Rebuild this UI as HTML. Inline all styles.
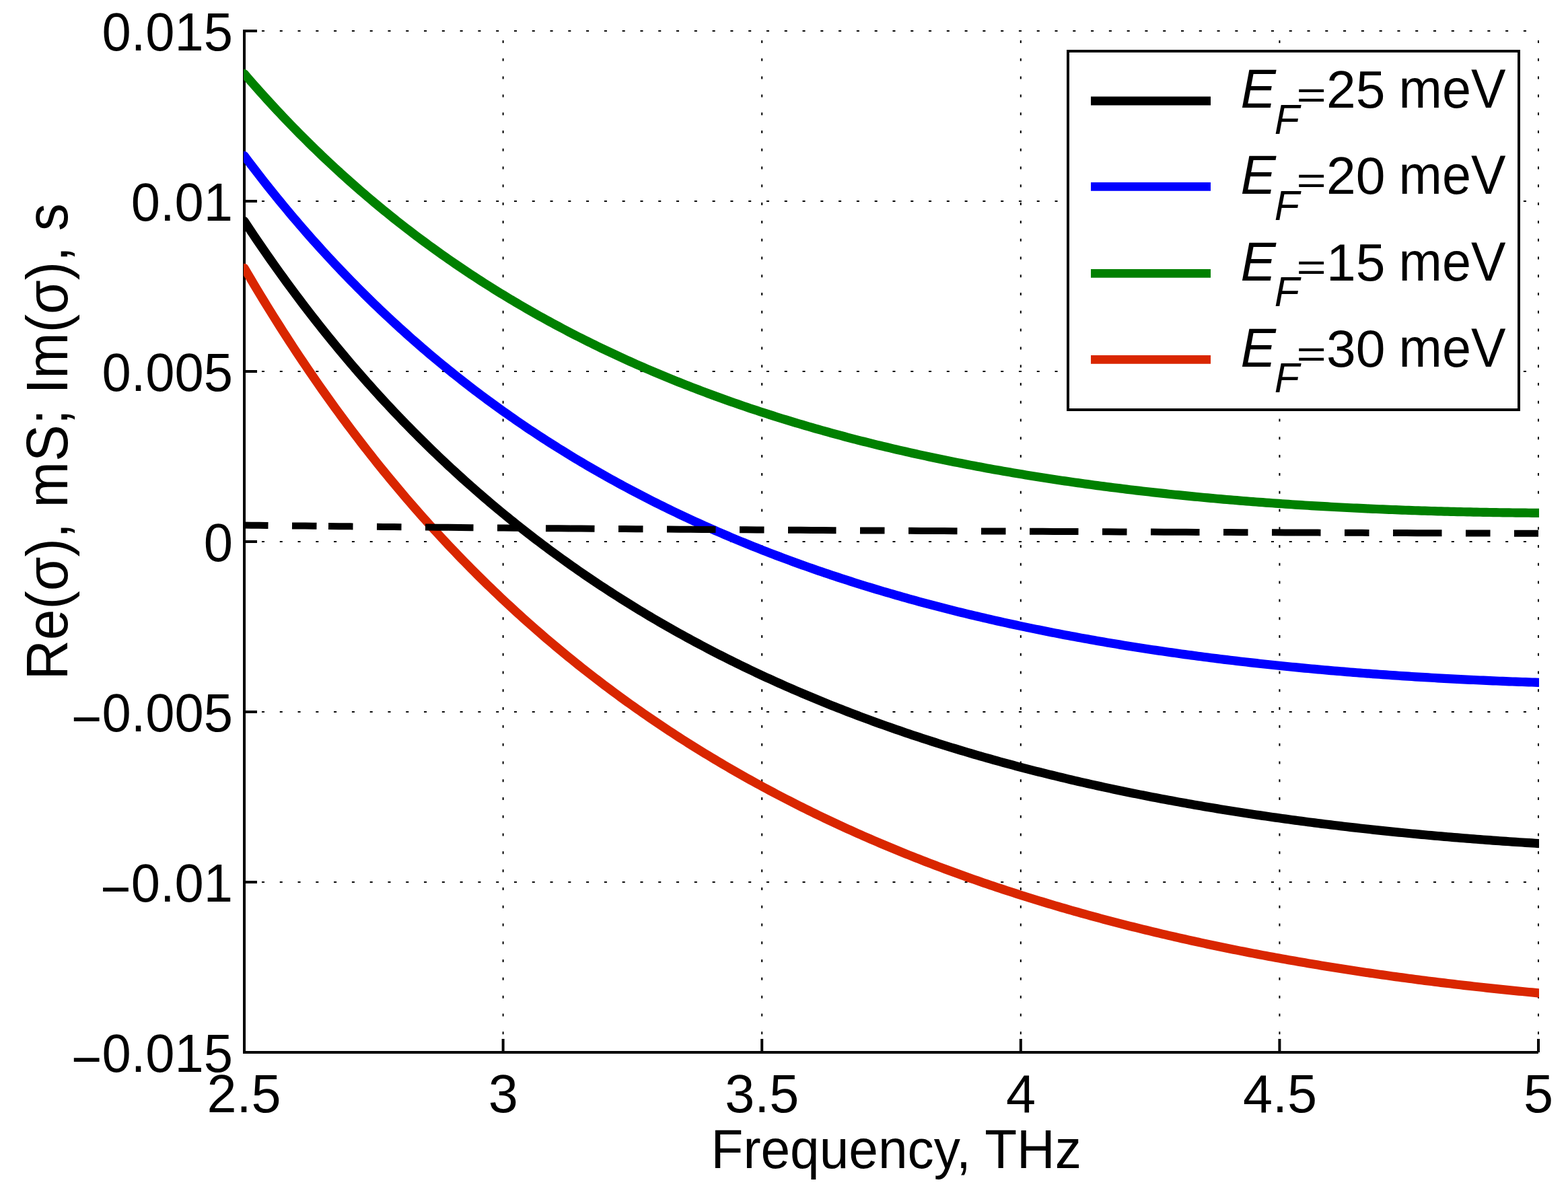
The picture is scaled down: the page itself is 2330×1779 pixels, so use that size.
<!DOCTYPE html><html><head><meta charset="utf-8"><title>Re(σ) vs Frequency</title><style>html,body{margin:0;padding:0;background:#fff;}svg{display:block;}</style></head><body>
<svg width="2330" height="1779" viewBox="0 0 2330 1779" font-family="Liberation Sans, Arial, Helvetica, sans-serif">
<defs><clipPath id="ax"><rect x="362" y="40" width="1925" height="1530"/></clipPath></defs>
<rect x="0" y="0" width="2330" height="1779" fill="#fff"/>
<path d="M362.2 46.0H2288 M362.2 299.0H2288 M362.2 552.0H2288 M362.2 805.0H2288 M362.2 1058.0H2288 M362.2 1311.0H2288 M362.2 1564.0H2288 M363.0 1564V44 M747.6 1564V44 M1132.2 1564V44 M1516.8 1564V44 M1901.4 1564V44 M2286.0 1564V44" stroke="#000" stroke-width="2" stroke-dasharray="4 22.785" fill="none"/>
<path d="M363 46V1564M361 1564H2286" stroke="#000" stroke-width="4" fill="none"/>
<path d="M361 46.0H382 M361 299.0H382 M361 552.0H382 M361 805.0H382 M361 1058.0H382 M361 1311.0H382 M361 1564.0H382 M363.0 1564V1544 M747.6 1564V1544 M1132.2 1564V1544 M1516.8 1564V1544 M1901.4 1564V1544 M2286.0 1564V1544" stroke="#000" stroke-width="4" fill="none"/>
<polyline points="363.00,328.59 367.82,335.89 372.64,343.13 377.46,350.32 382.28,357.44 387.10,364.51 391.92,371.52 396.74,378.48 401.56,385.38 406.38,392.22 411.20,399.01 416.02,405.75 420.83,412.43 425.65,419.06 430.47,425.63 435.29,432.15 440.11,438.62 444.93,445.04 449.75,451.41 454.57,457.73 459.39,464.00 464.21,470.22 469.03,476.39 473.85,482.51 478.67,488.58 483.49,494.61 488.31,500.59 493.13,506.52 497.95,512.41 502.77,518.25 507.59,524.04 512.41,529.79 517.23,535.50 522.05,541.16 526.86,546.77 531.68,552.35 536.50,557.88 541.32,563.37 546.14,568.81 550.96,574.22 555.78,579.58 560.60,584.90 565.42,590.19 570.24,595.43 575.06,600.63 579.88,605.79 584.70,610.91 589.52,615.99 594.34,621.04 599.16,626.05 603.98,631.01 608.80,635.95 613.62,640.84 618.44,645.70 623.26,650.52 628.08,655.30 632.89,660.05 637.71,664.76 642.53,669.44 647.35,674.08 652.17,678.69 656.99,683.26 661.81,687.80 666.63,692.31 671.45,696.78 676.27,701.22 681.09,705.62 685.91,710.00 690.73,714.34 695.55,718.65 700.37,722.92 705.19,727.17 710.01,731.38 714.83,735.57 719.65,739.72 724.47,743.84 729.29,747.93 734.11,751.99 738.92,756.02 743.74,760.02 748.56,764.00 753.38,767.94 758.20,771.85 763.02,775.74 767.84,779.60 772.66,783.43 777.48,787.23 782.30,791.00 787.12,794.75 791.94,798.47 796.76,802.16 801.58,805.83 806.40,809.47 811.22,813.08 816.04,816.67 820.86,820.23 825.68,823.76 830.50,827.27 835.32,830.76 840.14,834.22 844.95,837.65 849.77,841.06 854.59,844.45 859.41,847.81 864.23,851.14 869.05,854.46 873.87,857.75 878.69,861.01 883.51,864.25 888.33,867.47 893.15,870.67 897.97,873.84 902.79,876.99 907.61,880.12 912.43,883.23 917.25,886.31 922.07,889.37 926.89,892.41 931.71,895.43 936.53,898.43 941.35,901.40 946.17,904.36 950.98,907.29 955.80,910.20 960.62,913.09 965.44,915.97 970.26,918.82 975.08,921.65 979.90,924.46 984.72,927.25 989.54,930.02 994.36,932.77 999.18,935.50 1004.00,938.22 1008.82,940.91 1013.64,943.59 1018.46,946.24 1023.28,948.88 1028.10,951.50 1032.92,954.10 1037.74,956.68 1042.56,959.24 1047.38,961.79 1052.20,964.31 1057.02,966.82 1061.83,969.32 1066.65,971.79 1071.47,974.25 1076.29,976.69 1081.11,979.11 1085.93,981.52 1090.75,983.90 1095.57,986.28 1100.39,988.63 1105.21,990.97 1110.03,993.29 1114.85,995.60 1119.67,997.89 1124.49,1000.16 1129.31,1002.42 1134.13,1004.66 1138.95,1006.89 1143.77,1009.10 1148.59,1011.29 1153.41,1013.47 1158.23,1015.64 1163.05,1017.79 1167.86,1019.92 1172.68,1022.04 1177.50,1024.14 1182.32,1026.23 1187.14,1028.31 1191.96,1030.37 1196.78,1032.41 1201.60,1034.44 1206.42,1036.46 1211.24,1038.46 1216.06,1040.45 1220.88,1042.42 1225.70,1044.39 1230.52,1046.33 1235.34,1048.26 1240.16,1050.18 1244.98,1052.09 1249.80,1053.98 1254.62,1055.86 1259.44,1057.73 1264.26,1059.58 1269.08,1061.42 1273.89,1063.25 1278.71,1065.06 1283.53,1066.86 1288.35,1068.65 1293.17,1070.43 1297.99,1072.19 1302.81,1073.94 1307.63,1075.68 1312.45,1077.41 1317.27,1079.12 1322.09,1080.82 1326.91,1082.51 1331.73,1084.19 1336.55,1085.85 1341.37,1087.51 1346.19,1089.15 1351.01,1090.78 1355.83,1092.40 1360.65,1094.01 1365.47,1095.60 1370.29,1097.19 1375.11,1098.76 1379.92,1100.32 1384.74,1101.87 1389.56,1103.41 1394.38,1104.94 1399.20,1106.46 1404.02,1107.97 1408.84,1109.46 1413.66,1110.95 1418.48,1112.42 1423.30,1113.89 1428.12,1115.34 1432.94,1116.79 1437.76,1118.22 1442.58,1119.64 1447.40,1121.05 1452.22,1122.46 1457.04,1123.85 1461.86,1125.23 1466.68,1126.60 1471.50,1127.96 1476.32,1129.32 1481.14,1130.66 1485.95,1131.99 1490.77,1133.31 1495.59,1134.63 1500.41,1135.93 1505.23,1137.22 1510.05,1138.51 1514.87,1139.78 1519.69,1141.05 1524.51,1142.31 1529.33,1143.55 1534.15,1144.79 1538.97,1146.02 1543.79,1147.24 1548.61,1148.45 1553.43,1149.66 1558.25,1150.85 1563.07,1152.03 1567.89,1153.21 1572.71,1154.38 1577.53,1155.53 1582.35,1156.68 1587.17,1157.83 1591.98,1158.96 1596.80,1160.08 1601.62,1161.20 1606.44,1162.31 1611.26,1163.40 1616.08,1164.49 1620.90,1165.58 1625.72,1166.65 1630.54,1167.72 1635.36,1168.78 1640.18,1169.83 1645.00,1170.87 1649.82,1171.90 1654.64,1172.93 1659.46,1173.95 1664.28,1174.96 1669.10,1175.96 1673.92,1176.96 1678.74,1177.94 1683.56,1178.92 1688.38,1179.90 1693.20,1180.86 1698.02,1181.82 1702.83,1182.77 1707.65,1183.71 1712.47,1184.65 1717.29,1185.57 1722.11,1186.50 1726.93,1187.41 1731.75,1188.32 1736.57,1189.21 1741.39,1190.11 1746.21,1190.99 1751.03,1191.87 1755.85,1192.74 1760.67,1193.60 1765.49,1194.46 1770.31,1195.31 1775.13,1196.16 1779.95,1196.99 1784.77,1197.82 1789.59,1198.65 1794.41,1199.46 1799.23,1200.27 1804.05,1201.08 1808.86,1201.87 1813.68,1202.66 1818.50,1203.45 1823.32,1204.22 1828.14,1205.00 1832.96,1205.76 1837.78,1206.52 1842.60,1207.27 1847.42,1208.02 1852.24,1208.76 1857.06,1209.49 1861.88,1210.22 1866.70,1210.94 1871.52,1211.65 1876.34,1212.36 1881.16,1213.06 1885.98,1213.76 1890.80,1214.45 1895.62,1215.14 1900.44,1215.82 1905.26,1216.49 1910.08,1217.16 1914.89,1217.82 1919.71,1218.47 1924.53,1219.12 1929.35,1219.77 1934.17,1220.41 1938.99,1221.04 1943.81,1221.67 1948.63,1222.29 1953.45,1222.91 1958.27,1223.52 1963.09,1224.12 1967.91,1224.72 1972.73,1225.32 1977.55,1225.91 1982.37,1226.49 1987.19,1227.07 1992.01,1227.64 1996.83,1228.21 2001.65,1228.77 2006.47,1229.33 2011.29,1229.88 2016.11,1230.43 2020.92,1230.97 2025.74,1231.50 2030.56,1232.04 2035.38,1232.56 2040.20,1233.08 2045.02,1233.60 2049.84,1234.11 2054.66,1234.62 2059.48,1235.12 2064.30,1235.61 2069.12,1236.11 2073.94,1236.59 2078.76,1237.07 2083.58,1237.55 2088.40,1238.02 2093.22,1238.49 2098.04,1238.95 2102.86,1239.41 2107.68,1239.87 2112.50,1240.31 2117.32,1240.76 2122.14,1241.20 2126.95,1241.63 2131.77,1242.06 2136.59,1242.49 2141.41,1242.91 2146.23,1243.33 2151.05,1243.74 2155.87,1244.15 2160.69,1244.55 2165.51,1244.95 2170.33,1245.34 2175.15,1245.73 2179.97,1246.12 2184.79,1246.50 2189.61,1246.88 2194.43,1247.25 2199.25,1247.62 2204.07,1247.98 2208.89,1248.34 2213.71,1248.70 2218.53,1249.05 2223.35,1249.40 2228.17,1249.74 2232.98,1250.08 2237.80,1250.42 2242.62,1250.75 2247.44,1251.07 2252.26,1251.40 2257.08,1251.72 2261.90,1252.03 2266.72,1252.34 2271.54,1252.65 2276.36,1252.95 2281.18,1253.25 2286.00,1253.55" fill="none" stroke="#000000" stroke-width="13.2" stroke-linejoin="round" stroke-linecap="round" clip-path="url(#ax)"/>
<polyline points="363.00,231.48 367.82,237.90 372.64,244.26 377.46,250.58 382.28,256.83 387.10,263.04 391.92,269.20 396.74,275.31 401.56,281.36 406.38,287.37 411.20,293.33 416.02,299.24 420.83,305.10 425.65,310.91 430.47,316.68 435.29,322.40 440.11,328.07 444.93,333.70 449.75,339.28 454.57,344.82 459.39,350.31 464.21,355.76 469.03,361.16 473.85,366.52 478.67,371.84 483.49,377.11 488.31,382.35 493.13,387.54 497.95,392.69 502.77,397.80 507.59,402.87 512.41,407.90 517.23,412.89 522.05,417.83 526.86,422.74 531.68,427.62 536.50,432.45 541.32,437.24 546.14,442.00 550.96,446.72 555.78,451.40 560.60,456.05 565.42,460.66 570.24,465.23 575.06,469.77 579.88,474.27 584.70,478.74 589.52,483.17 594.34,487.57 599.16,491.94 603.98,496.27 608.80,500.56 613.62,504.83 618.44,509.06 623.26,513.26 628.08,517.42 632.89,521.55 637.71,525.66 642.53,529.73 647.35,533.76 652.17,537.77 656.99,541.75 661.81,545.69 666.63,549.61 671.45,553.50 676.27,557.35 681.09,561.18 685.91,564.98 690.73,568.75 695.55,572.49 700.37,576.20 705.19,579.88 710.01,583.54 714.83,587.17 719.65,590.77 724.47,594.34 729.29,597.88 734.11,601.40 738.92,604.90 743.74,608.36 748.56,611.80 753.38,615.21 758.20,618.60 763.02,621.96 767.84,625.30 772.66,628.61 777.48,631.90 782.30,635.16 787.12,638.40 791.94,641.61 796.76,644.80 801.58,647.97 806.40,651.11 811.22,654.23 816.04,657.32 820.86,660.40 825.68,663.45 830.50,666.47 835.32,669.47 840.14,672.46 844.95,675.41 849.77,678.35 854.59,681.27 859.41,684.16 864.23,687.03 869.05,689.88 873.87,692.71 878.69,695.52 883.51,698.30 888.33,701.07 893.15,703.82 897.97,706.54 902.79,709.25 907.61,711.93 912.43,714.60 917.25,717.24 922.07,719.87 926.89,722.47 931.71,725.06 936.53,727.63 941.35,730.18 946.17,732.71 950.98,735.22 955.80,737.71 960.62,740.18 965.44,742.64 970.26,745.08 975.08,747.50 979.90,749.90 984.72,752.28 989.54,754.65 994.36,756.99 999.18,759.33 1004.00,761.64 1008.82,763.94 1013.64,766.22 1018.46,768.48 1023.28,770.73 1028.10,772.95 1032.92,775.17 1037.74,777.36 1042.56,779.54 1047.38,781.71 1052.20,783.86 1057.02,785.99 1061.83,788.11 1066.65,790.21 1071.47,792.29 1076.29,794.36 1081.11,796.42 1085.93,798.46 1090.75,800.48 1095.57,802.49 1100.39,804.48 1105.21,806.46 1110.03,808.43 1114.85,810.38 1119.67,812.31 1124.49,814.24 1129.31,816.14 1134.13,818.04 1138.95,819.91 1143.77,821.78 1148.59,823.63 1153.41,825.47 1158.23,827.29 1163.05,829.10 1167.86,830.90 1172.68,832.68 1177.50,834.45 1182.32,836.21 1187.14,837.95 1191.96,839.68 1196.78,841.40 1201.60,843.10 1206.42,844.80 1211.24,846.48 1216.06,848.14 1220.88,849.80 1225.70,851.44 1230.52,853.07 1235.34,854.68 1240.16,856.29 1244.98,857.88 1249.80,859.46 1254.62,861.03 1259.44,862.59 1264.26,864.14 1269.08,865.67 1273.89,867.19 1278.71,868.70 1283.53,870.20 1288.35,871.69 1293.17,873.17 1297.99,874.63 1302.81,876.09 1307.63,877.53 1312.45,878.96 1317.27,880.38 1322.09,881.79 1326.91,883.19 1331.73,884.58 1336.55,885.96 1341.37,887.33 1346.19,888.69 1351.01,890.03 1355.83,891.37 1360.65,892.70 1365.47,894.01 1370.29,895.32 1375.11,896.61 1379.92,897.90 1384.74,899.18 1389.56,900.44 1394.38,901.70 1399.20,902.94 1404.02,904.18 1408.84,905.41 1413.66,906.63 1418.48,907.83 1423.30,909.03 1428.12,910.22 1432.94,911.40 1437.76,912.57 1442.58,913.73 1447.40,914.89 1452.22,916.03 1457.04,917.16 1461.86,918.29 1466.68,919.40 1471.50,920.51 1476.32,921.61 1481.14,922.70 1485.95,923.78 1490.77,924.85 1495.59,925.92 1500.41,926.97 1505.23,928.02 1510.05,929.06 1514.87,930.09 1519.69,931.11 1524.51,932.12 1529.33,933.12 1534.15,934.12 1538.97,935.11 1543.79,936.09 1548.61,937.06 1553.43,938.03 1558.25,938.98 1563.07,939.93 1567.89,940.87 1572.71,941.81 1577.53,942.73 1582.35,943.65 1587.17,944.56 1591.98,945.46 1596.80,946.36 1601.62,947.25 1606.44,948.13 1611.26,949.00 1616.08,949.86 1620.90,950.72 1625.72,951.57 1630.54,952.41 1635.36,953.25 1640.18,954.08 1645.00,954.90 1649.82,955.72 1654.64,956.52 1659.46,957.32 1664.28,958.12 1669.10,958.90 1673.92,959.68 1678.74,960.46 1683.56,961.22 1688.38,961.98 1693.20,962.74 1698.02,963.48 1702.83,964.22 1707.65,964.95 1712.47,965.68 1717.29,966.40 1722.11,967.11 1726.93,967.82 1731.75,968.52 1736.57,969.22 1741.39,969.90 1746.21,970.59 1751.03,971.26 1755.85,971.93 1760.67,972.59 1765.49,973.25 1770.31,973.90 1775.13,974.54 1779.95,975.18 1784.77,975.82 1789.59,976.44 1794.41,977.06 1799.23,977.68 1804.05,978.29 1808.86,978.89 1813.68,979.49 1818.50,980.08 1823.32,980.66 1828.14,981.24 1832.96,981.82 1837.78,982.39 1842.60,982.95 1847.42,983.51 1852.24,984.06 1857.06,984.60 1861.88,985.15 1866.70,985.68 1871.52,986.21 1876.34,986.74 1881.16,987.25 1885.98,987.77 1890.80,988.28 1895.62,988.78 1900.44,989.28 1905.26,989.77 1910.08,990.26 1914.89,990.74 1919.71,991.22 1924.53,991.69 1929.35,992.16 1934.17,992.62 1938.99,993.08 1943.81,993.53 1948.63,993.97 1953.45,994.42 1958.27,994.85 1963.09,995.29 1967.91,995.71 1972.73,996.14 1977.55,996.55 1982.37,996.97 1987.19,997.37 1992.01,997.78 1996.83,998.18 2001.65,998.57 2006.47,998.96 2011.29,999.34 2016.11,999.72 2020.92,1000.10 2025.74,1000.47 2030.56,1000.84 2035.38,1001.20 2040.20,1001.56 2045.02,1001.91 2049.84,1002.26 2054.66,1002.60 2059.48,1002.94 2064.30,1003.28 2069.12,1003.61 2073.94,1003.93 2078.76,1004.26 2083.58,1004.57 2088.40,1004.89 2093.22,1005.20 2098.04,1005.50 2102.86,1005.80 2107.68,1006.10 2112.50,1006.39 2117.32,1006.68 2122.14,1006.96 2126.95,1007.24 2131.77,1007.52 2136.59,1007.79 2141.41,1008.06 2146.23,1008.33 2151.05,1008.59 2155.87,1008.84 2160.69,1009.09 2165.51,1009.34 2170.33,1009.59 2175.15,1009.83 2179.97,1010.06 2184.79,1010.30 2189.61,1010.53 2194.43,1010.75 2199.25,1010.97 2204.07,1011.19 2208.89,1011.40 2213.71,1011.61 2218.53,1011.82 2223.35,1012.02 2228.17,1012.22 2232.98,1012.42 2237.80,1012.61 2242.62,1012.80 2247.44,1012.98 2252.26,1013.16 2257.08,1013.34 2261.90,1013.51 2266.72,1013.68 2271.54,1013.85 2276.36,1014.01 2281.18,1014.17 2286.00,1014.33" fill="none" stroke="#0000ff" stroke-width="13.2" stroke-linejoin="round" stroke-linecap="round" clip-path="url(#ax)"/>
<polyline points="363.00,109.60 367.82,115.19 372.64,120.73 377.46,126.23 382.28,131.68 387.10,137.09 391.92,142.45 396.74,147.76 401.56,153.03 406.38,158.26 411.20,163.44 416.02,168.59 420.83,173.68 425.65,178.74 430.47,183.75 435.29,188.72 440.11,193.65 444.93,198.54 449.75,203.39 454.57,208.20 459.39,212.97 464.21,217.70 469.03,222.39 473.85,227.05 478.67,231.66 483.49,236.24 488.31,240.78 493.13,245.28 497.95,249.75 502.77,254.18 507.59,258.57 512.41,262.93 517.23,267.25 522.05,271.54 526.86,275.79 531.68,280.01 536.50,284.19 541.32,288.34 546.14,292.46 550.96,296.55 555.78,300.60 560.60,304.61 565.42,308.60 570.24,312.55 575.06,316.48 579.88,320.37 584.70,324.23 589.52,328.05 594.34,331.85 599.16,335.62 603.98,339.36 608.80,343.07 613.62,346.74 618.44,350.39 623.26,354.01 628.08,357.60 632.89,361.17 637.71,364.70 642.53,368.21 647.35,371.69 652.17,375.14 656.99,378.56 661.81,381.96 666.63,385.33 671.45,388.67 676.27,391.99 681.09,395.28 685.91,398.54 690.73,401.78 695.55,404.99 700.37,408.18 705.19,411.35 710.01,414.48 714.83,417.60 719.65,420.69 724.47,423.75 729.29,426.79 734.11,429.81 738.92,432.80 743.74,435.77 748.56,438.72 753.38,441.64 758.20,444.54 763.02,447.42 767.84,450.28 772.66,453.11 777.48,455.92 782.30,458.71 787.12,461.48 791.94,464.22 796.76,466.95 801.58,469.65 806.40,472.33 811.22,475.00 816.04,477.64 820.86,480.26 825.68,482.86 830.50,485.44 835.32,487.99 840.14,490.53 844.95,493.05 849.77,495.55 854.59,498.03 859.41,500.50 864.23,502.94 869.05,505.36 873.87,507.76 878.69,510.15 883.51,512.52 888.33,514.87 893.15,517.20 897.97,519.51 902.79,521.80 907.61,524.08 912.43,526.34 917.25,528.58 922.07,530.80 926.89,533.01 931.71,535.20 936.53,537.37 941.35,539.53 946.17,541.67 950.98,543.79 955.80,545.89 960.62,547.98 965.44,550.06 970.26,552.11 975.08,554.15 979.90,556.18 984.72,558.19 989.54,560.18 994.36,562.16 999.18,564.12 1004.00,566.07 1008.82,568.00 1013.64,569.92 1018.46,571.82 1023.28,573.71 1028.10,575.58 1032.92,577.44 1037.74,579.28 1042.56,581.11 1047.38,582.92 1052.20,584.72 1057.02,586.51 1061.83,588.28 1066.65,590.04 1071.47,591.78 1076.29,593.51 1081.11,595.23 1085.93,596.93 1090.75,598.62 1095.57,600.30 1100.39,601.96 1105.21,603.62 1110.03,605.25 1114.85,606.88 1119.67,608.49 1124.49,610.09 1129.31,611.67 1134.13,613.25 1138.95,614.81 1143.77,616.36 1148.59,617.89 1153.41,619.42 1158.23,620.93 1163.05,622.43 1167.86,623.92 1172.68,625.39 1177.50,626.86 1182.32,628.31 1187.14,629.75 1191.96,631.18 1196.78,632.60 1201.60,634.01 1206.42,635.40 1211.24,636.79 1216.06,638.16 1220.88,639.52 1225.70,640.87 1230.52,642.21 1235.34,643.54 1240.16,644.86 1244.98,646.17 1249.80,647.46 1254.62,648.75 1259.44,650.03 1264.26,651.29 1269.08,652.55 1273.89,653.79 1278.71,655.03 1283.53,656.25 1288.35,657.46 1293.17,658.67 1297.99,659.86 1302.81,661.05 1307.63,662.22 1312.45,663.39 1317.27,664.54 1322.09,665.69 1326.91,666.82 1331.73,667.95 1336.55,669.07 1341.37,670.18 1346.19,671.27 1351.01,672.36 1355.83,673.44 1360.65,674.52 1365.47,675.58 1370.29,676.63 1375.11,677.67 1379.92,678.71 1384.74,679.74 1389.56,680.75 1394.38,681.76 1399.20,682.76 1404.02,683.75 1408.84,684.74 1413.66,685.71 1418.48,686.68 1423.30,687.64 1428.12,688.59 1432.94,689.53 1437.76,690.46 1442.58,691.38 1447.40,692.30 1452.22,693.21 1457.04,694.11 1461.86,695.00 1466.68,695.89 1471.50,696.76 1476.32,697.63 1481.14,698.49 1485.95,699.35 1490.77,700.19 1495.59,701.03 1500.41,701.86 1505.23,702.69 1510.05,703.50 1514.87,704.31 1519.69,705.11 1524.51,705.91 1529.33,706.69 1534.15,707.47 1538.97,708.24 1543.79,709.01 1548.61,709.76 1553.43,710.51 1558.25,711.26 1563.07,711.99 1567.89,712.72 1572.71,713.45 1577.53,714.16 1582.35,714.87 1587.17,715.57 1591.98,716.27 1596.80,716.96 1601.62,717.64 1606.44,718.32 1611.26,718.98 1616.08,719.65 1620.90,720.30 1625.72,720.95 1630.54,721.59 1635.36,722.23 1640.18,722.86 1645.00,723.49 1649.82,724.10 1654.64,724.72 1659.46,725.32 1664.28,725.92 1669.10,726.51 1673.92,727.10 1678.74,727.68 1683.56,728.26 1688.38,728.82 1693.20,729.39 1698.02,729.94 1702.83,730.50 1707.65,731.04 1712.47,731.58 1717.29,732.11 1722.11,732.64 1726.93,733.16 1731.75,733.68 1736.57,734.19 1741.39,734.70 1746.21,735.20 1751.03,735.69 1755.85,736.18 1760.67,736.66 1765.49,737.14 1770.31,737.62 1775.13,738.08 1779.95,738.54 1784.77,739.00 1789.59,739.45 1794.41,739.90 1799.23,740.34 1804.05,740.77 1808.86,741.20 1813.68,741.63 1818.50,742.05 1823.32,742.46 1828.14,742.87 1832.96,743.28 1837.78,743.68 1842.60,744.07 1847.42,744.46 1852.24,744.85 1857.06,745.23 1861.88,745.61 1866.70,745.98 1871.52,746.34 1876.34,746.70 1881.16,747.06 1885.98,747.41 1890.80,747.76 1895.62,748.10 1900.44,748.44 1905.26,748.77 1910.08,749.10 1914.89,749.42 1919.71,749.74 1924.53,750.06 1929.35,750.37 1934.17,750.67 1938.99,750.97 1943.81,751.27 1948.63,751.56 1953.45,751.85 1958.27,752.13 1963.09,752.41 1967.91,752.69 1972.73,752.96 1977.55,753.23 1982.37,753.49 1987.19,753.75 1992.01,754.00 1996.83,754.25 2001.65,754.50 2006.47,754.74 2011.29,754.97 2016.11,755.21 2020.92,755.44 2025.74,755.66 2030.56,755.88 2035.38,756.10 2040.20,756.31 2045.02,756.52 2049.84,756.73 2054.66,756.93 2059.48,757.13 2064.30,757.32 2069.12,757.51 2073.94,757.70 2078.76,757.88 2083.58,758.06 2088.40,758.23 2093.22,758.40 2098.04,758.57 2102.86,758.73 2107.68,758.89 2112.50,759.05 2117.32,759.20 2122.14,759.35 2126.95,759.50 2131.77,759.64 2136.59,759.78 2141.41,759.91 2146.23,760.04 2151.05,760.17 2155.87,760.29 2160.69,760.41 2165.51,760.53 2170.33,760.65 2175.15,760.76 2179.97,760.86 2184.79,760.97 2189.61,761.07 2194.43,761.16 2199.25,761.26 2204.07,761.35 2208.89,761.43 2213.71,761.52 2218.53,761.60 2223.35,761.67 2228.17,761.75 2232.98,761.82 2237.80,761.88 2242.62,761.95 2247.44,762.01 2252.26,762.07 2257.08,762.12 2261.90,762.17 2266.72,762.22 2271.54,762.27 2276.36,762.31 2281.18,762.35 2286.00,762.38" fill="none" stroke="#008000" stroke-width="13.2" stroke-linejoin="round" stroke-linecap="round" clip-path="url(#ax)"/>
<polyline points="363.00,398.26 367.82,406.50 372.64,414.68 377.46,422.79 382.28,430.83 387.10,438.82 391.92,446.73 396.74,454.59 401.56,462.38 406.38,470.12 411.20,477.79 416.02,485.40 420.83,492.95 425.65,500.44 430.47,507.87 435.29,515.25 440.11,522.57 444.93,529.83 449.75,537.03 454.57,544.18 459.39,551.27 464.21,558.31 469.03,565.29 473.85,572.22 478.67,579.09 483.49,585.92 488.31,592.69 493.13,599.41 497.95,606.07 502.77,612.69 507.59,619.26 512.41,625.77 517.23,632.24 522.05,638.66 526.86,645.02 531.68,651.35 536.50,657.62 541.32,663.84 546.14,670.02 550.96,676.15 555.78,682.24 560.60,688.28 565.42,694.28 570.24,700.23 575.06,706.13 579.88,711.99 584.70,717.81 589.52,723.59 594.34,729.32 599.16,735.01 603.98,740.66 608.80,746.26 613.62,751.83 618.44,757.35 623.26,762.83 628.08,768.28 632.89,773.68 637.71,779.04 642.53,784.37 647.35,789.65 652.17,794.90 656.99,800.11 661.81,805.28 666.63,810.41 671.45,815.50 676.27,820.56 681.09,825.59 685.91,830.57 690.73,835.52 695.55,840.43 700.37,845.31 705.19,850.16 710.01,854.96 714.83,859.74 719.65,864.48 724.47,869.18 729.29,873.86 734.11,878.49 738.92,883.10 743.74,887.67 748.56,892.21 753.38,896.72 758.20,901.20 763.02,905.64 767.84,910.05 772.66,914.44 777.48,918.79 782.30,923.11 787.12,927.40 791.94,931.65 796.76,935.88 801.58,940.08 806.40,944.25 811.22,948.39 816.04,952.50 820.86,956.59 825.68,960.64 830.50,964.67 835.32,968.66 840.14,972.63 844.95,976.58 849.77,980.49 854.59,984.38 859.41,988.24 864.23,992.07 869.05,995.88 873.87,999.66 878.69,1003.41 883.51,1007.14 888.33,1010.85 893.15,1014.52 897.97,1018.17 902.79,1021.80 907.61,1025.40 912.43,1028.98 917.25,1032.53 922.07,1036.06 926.89,1039.56 931.71,1043.04 936.53,1046.50 941.35,1049.93 946.17,1053.34 950.98,1056.72 955.80,1060.08 960.62,1063.42 965.44,1066.74 970.26,1070.03 975.08,1073.30 979.90,1076.55 984.72,1079.78 989.54,1082.98 994.36,1086.17 999.18,1089.33 1004.00,1092.47 1008.82,1095.59 1013.64,1098.69 1018.46,1101.76 1023.28,1104.82 1028.10,1107.85 1032.92,1110.87 1037.74,1113.86 1042.56,1116.83 1047.38,1119.79 1052.20,1122.72 1057.02,1125.64 1061.83,1128.53 1066.65,1131.41 1071.47,1134.26 1076.29,1137.10 1081.11,1139.91 1085.93,1142.71 1090.75,1145.49 1095.57,1148.25 1100.39,1151.00 1105.21,1153.72 1110.03,1156.43 1114.85,1159.11 1119.67,1161.78 1124.49,1164.43 1129.31,1167.07 1134.13,1169.68 1138.95,1172.28 1143.77,1174.86 1148.59,1177.43 1153.41,1179.97 1158.23,1182.50 1163.05,1185.02 1167.86,1187.51 1172.68,1189.99 1177.50,1192.46 1182.32,1194.90 1187.14,1197.33 1191.96,1199.75 1196.78,1202.14 1201.60,1204.53 1206.42,1206.89 1211.24,1209.24 1216.06,1211.58 1220.88,1213.90 1225.70,1216.20 1230.52,1218.49 1235.34,1220.76 1240.16,1223.02 1244.98,1225.26 1249.80,1227.49 1254.62,1229.70 1259.44,1231.90 1264.26,1234.08 1269.08,1236.25 1273.89,1238.41 1278.71,1240.55 1283.53,1242.67 1288.35,1244.79 1293.17,1246.88 1297.99,1248.97 1302.81,1251.04 1307.63,1253.10 1312.45,1255.14 1317.27,1257.17 1322.09,1259.18 1326.91,1261.18 1331.73,1263.17 1336.55,1265.15 1341.37,1267.11 1346.19,1269.06 1351.01,1271.00 1355.83,1272.92 1360.65,1274.83 1365.47,1276.73 1370.29,1278.62 1375.11,1280.49 1379.92,1282.35 1384.74,1284.20 1389.56,1286.03 1394.38,1287.86 1399.20,1289.67 1404.02,1291.47 1408.84,1293.25 1413.66,1295.03 1418.48,1296.79 1423.30,1298.54 1428.12,1300.28 1432.94,1302.01 1437.76,1303.73 1442.58,1305.43 1447.40,1307.13 1452.22,1308.81 1457.04,1310.48 1461.86,1312.14 1466.68,1313.79 1471.50,1315.43 1476.32,1317.05 1481.14,1318.67 1485.95,1320.28 1490.77,1321.87 1495.59,1323.45 1500.41,1325.03 1505.23,1326.59 1510.05,1328.14 1514.87,1329.68 1519.69,1331.21 1524.51,1332.73 1529.33,1334.24 1534.15,1335.74 1538.97,1337.23 1543.79,1338.71 1548.61,1340.18 1553.43,1341.64 1558.25,1343.09 1563.07,1344.53 1567.89,1345.97 1572.71,1347.39 1577.53,1348.80 1582.35,1350.20 1587.17,1351.59 1591.98,1352.97 1596.80,1354.35 1601.62,1355.71 1606.44,1357.07 1611.26,1358.41 1616.08,1359.75 1620.90,1361.07 1625.72,1362.39 1630.54,1363.70 1635.36,1365.00 1640.18,1366.29 1645.00,1367.57 1649.82,1368.85 1654.64,1370.11 1659.46,1371.37 1664.28,1372.61 1669.10,1373.85 1673.92,1375.08 1678.74,1376.30 1683.56,1377.52 1688.38,1378.72 1693.20,1379.92 1698.02,1381.10 1702.83,1382.28 1707.65,1383.45 1712.47,1384.62 1717.29,1385.77 1722.11,1386.92 1726.93,1388.06 1731.75,1389.19 1736.57,1390.31 1741.39,1391.43 1746.21,1392.53 1751.03,1393.63 1755.85,1394.73 1760.67,1395.81 1765.49,1396.89 1770.31,1397.95 1775.13,1399.01 1779.95,1400.07 1784.77,1401.11 1789.59,1402.15 1794.41,1403.18 1799.23,1404.21 1804.05,1405.22 1808.86,1406.23 1813.68,1407.23 1818.50,1408.23 1823.32,1409.22 1828.14,1410.20 1832.96,1411.17 1837.78,1412.14 1842.60,1413.10 1847.42,1414.05 1852.24,1414.99 1857.06,1415.93 1861.88,1416.86 1866.70,1417.79 1871.52,1418.71 1876.34,1419.62 1881.16,1420.52 1885.98,1421.42 1890.80,1422.31 1895.62,1423.19 1900.44,1424.07 1905.26,1424.94 1910.08,1425.81 1914.89,1426.67 1919.71,1427.52 1924.53,1428.36 1929.35,1429.20 1934.17,1430.04 1938.99,1430.86 1943.81,1431.68 1948.63,1432.50 1953.45,1433.31 1958.27,1434.11 1963.09,1434.90 1967.91,1435.69 1972.73,1436.48 1977.55,1437.26 1982.37,1438.03 1987.19,1438.79 1992.01,1439.55 1996.83,1440.31 2001.65,1441.05 2006.47,1441.80 2011.29,1442.53 2016.11,1443.26 2020.92,1443.99 2025.74,1444.71 2030.56,1445.42 2035.38,1446.13 2040.20,1446.83 2045.02,1447.53 2049.84,1448.22 2054.66,1448.90 2059.48,1449.58 2064.30,1450.26 2069.12,1450.93 2073.94,1451.59 2078.76,1452.25 2083.58,1452.90 2088.40,1453.55 2093.22,1454.19 2098.04,1454.83 2102.86,1455.46 2107.68,1456.09 2112.50,1456.71 2117.32,1457.33 2122.14,1457.94 2126.95,1458.54 2131.77,1459.14 2136.59,1459.74 2141.41,1460.33 2146.23,1460.92 2151.05,1461.50 2155.87,1462.07 2160.69,1462.64 2165.51,1463.21 2170.33,1463.77 2175.15,1464.33 2179.97,1464.88 2184.79,1465.42 2189.61,1465.96 2194.43,1466.50 2199.25,1467.03 2204.07,1467.56 2208.89,1468.08 2213.71,1468.60 2218.53,1469.12 2223.35,1469.62 2228.17,1470.13 2232.98,1470.63 2237.80,1471.12 2242.62,1471.61 2247.44,1472.10 2252.26,1472.58 2257.08,1473.06 2261.90,1473.53 2266.72,1474.00 2271.54,1474.46 2276.36,1474.92 2281.18,1475.38 2286.00,1475.83" fill="none" stroke="#d92600" stroke-width="13.2" stroke-linejoin="round" stroke-linecap="round" clip-path="url(#ax)"/>
<polyline points="362.00,780.50 373.45,780.64 384.91,780.79 396.36,780.93 407.82,781.07 419.27,781.21 430.73,781.34 442.18,781.48 453.64,781.61 465.09,781.74 476.55,781.88 488.00,782.00" fill="none" stroke="#000" stroke-width="10" stroke-dasharray="36.5 35.5" stroke-linecap="butt" clip-path="url(#ax)"/>
<polyline points="488.00,782.00 504.27,782.19 520.55,782.36 536.82,782.54 553.09,782.71 569.36,782.88 585.64,783.05 601.91,783.22 618.18,783.38 634.45,783.54 650.73,783.70 667.00,783.85" fill="none" stroke="#000" stroke-width="10" stroke-dasharray="36.5 35.5" stroke-linecap="butt" clip-path="url(#ax)"/>
<polyline points="667.00,783.85 683.36,784.01 699.73,784.16 716.09,784.31 732.45,784.46 748.82,784.60 765.18,784.75 781.55,784.89 797.91,785.03 814.27,785.16 830.64,785.30 847.00,785.43" fill="none" stroke="#000" stroke-width="10" stroke-dasharray="36.5 35.5" stroke-linecap="butt" clip-path="url(#ax)"/>
<polyline points="847.00,785.43 863.36,785.57 879.73,785.70 896.09,785.83 912.45,785.95 928.82,786.08 945.18,786.20 961.55,786.32 977.91,786.44 994.27,786.56 1010.64,786.68 1027.00,786.80" fill="none" stroke="#000" stroke-width="10" stroke-dasharray="36.5 35.5" stroke-linecap="butt" clip-path="url(#ax)"/>
<polyline points="1027.00,786.80 1043.27,786.91 1059.55,787.02 1075.82,787.13 1092.09,787.24 1108.36,787.35 1124.64,787.46 1140.91,787.56 1157.18,787.67 1173.45,787.77 1189.73,787.87 1206.00,787.97" fill="none" stroke="#000" stroke-width="10" stroke-dasharray="36.5 35.5" stroke-linecap="butt" clip-path="url(#ax)"/>
<polyline points="1206.00,787.97 1222.36,788.07 1238.73,788.17 1255.09,788.27 1271.45,788.37 1287.82,788.46 1304.18,788.56 1320.55,788.65 1336.91,788.74 1353.27,788.83 1369.64,788.92 1386.00,789.01" fill="none" stroke="#000" stroke-width="10" stroke-dasharray="36.5 35.5" stroke-linecap="butt" clip-path="url(#ax)"/>
<polyline points="1386.00,789.01 1402.36,789.10 1418.73,789.19 1435.09,789.28 1451.45,789.36 1467.82,789.45 1484.18,789.53 1500.55,789.61 1516.91,789.69 1533.27,789.78 1549.64,789.86 1566.00,789.93" fill="none" stroke="#000" stroke-width="10" stroke-dasharray="36.5 35.5" stroke-linecap="butt" clip-path="url(#ax)"/>
<polyline points="1566.00,789.93 1582.36,790.01 1598.73,790.09 1615.09,790.17 1631.45,790.24 1647.82,790.32 1664.18,790.39 1680.55,790.47 1696.91,790.54 1713.27,790.61 1729.64,790.68 1746.00,790.75" fill="none" stroke="#000" stroke-width="10" stroke-dasharray="36.5 35.5" stroke-linecap="butt" clip-path="url(#ax)"/>
<polyline points="1746.00,790.75 1762.36,790.82 1778.73,790.89 1795.09,790.96 1811.45,791.03 1827.82,791.10 1844.18,791.17 1860.55,791.23 1876.91,791.30 1893.27,791.36 1909.64,791.43 1926.00,791.49" fill="none" stroke="#000" stroke-width="10" stroke-dasharray="36.5 35.5" stroke-linecap="butt" clip-path="url(#ax)"/>
<polyline points="1926.00,791.49 1942.36,791.55 1958.73,791.62 1975.09,791.68 1991.45,791.74 2007.82,791.80 2024.18,791.86 2040.55,791.92 2056.91,791.98 2073.27,792.04 2089.64,792.10 2106.00,792.15" fill="none" stroke="#000" stroke-width="10" stroke-dasharray="36.5 35.5" stroke-linecap="butt" clip-path="url(#ax)"/>
<polyline points="2106.00,792.15 2122.36,792.21 2138.73,792.27 2155.09,792.32 2171.45,792.38 2187.82,792.43 2204.18,792.49 2220.55,792.54 2236.91,792.60 2253.27,792.65 2269.64,792.70 2286.00,792.75" fill="none" stroke="#000" stroke-width="10" stroke-dasharray="36.5 35.5" stroke-linecap="butt" clip-path="url(#ax)"/>
<rect x="1587" y="76" width="670" height="533" fill="#fff" stroke="#000" stroke-width="4"/>
<path d="M1621 150.0H1799" stroke="#000000" stroke-width="12.8"/>
<text transform="translate(1843.44,160.40) scale(0.9645,1)" font-size="81.5" font-style="italic">E</text>
<text transform="translate(1893.68,199.00) scale(0.9715,1)" font-size="62.5" font-style="italic">F</text>
<text transform="translate(1926.39,161.01) scale(0.9313,0.7039)" font-size="81.5">=</text>
<text transform="translate(1971.07,160.40) scale(0.9648,0.9452)" font-size="81.5">25</text>
<text transform="translate(2078.58,160.40) scale(0.9482,1)" font-size="81.5">meV</text>
<path d="M1621 277.4H1799" stroke="#0000ff" stroke-width="12.8"/>
<text transform="translate(1843.44,287.60) scale(0.9645,1)" font-size="81.5" font-style="italic">E</text>
<text transform="translate(1893.68,326.70) scale(0.9715,1)" font-size="62.5" font-style="italic">F</text>
<text transform="translate(1926.39,288.21) scale(0.9313,0.7039)" font-size="81.5">=</text>
<text transform="translate(1971.07,287.60) scale(0.9648,0.9452)" font-size="81.5">20</text>
<text transform="translate(2078.58,287.60) scale(0.9482,1)" font-size="81.5">meV</text>
<path d="M1621 406.3H1799" stroke="#008000" stroke-width="12.8"/>
<text transform="translate(1843.44,416.80) scale(0.9645,1)" font-size="81.5" font-style="italic">E</text>
<text transform="translate(1893.68,454.70) scale(0.9715,1)" font-size="62.5" font-style="italic">F</text>
<text transform="translate(1926.39,417.41) scale(0.9313,0.7039)" font-size="81.5">=</text>
<text transform="translate(1971.07,416.80) scale(0.9648,0.9452)" font-size="81.5">15</text>
<text transform="translate(2078.58,416.80) scale(0.9482,1)" font-size="81.5">meV</text>
<path d="M1621 534.3H1799" stroke="#d92600" stroke-width="12.8"/>
<text transform="translate(1843.44,545.00) scale(0.9645,1)" font-size="81.5" font-style="italic">E</text>
<text transform="translate(1893.68,582.70) scale(0.9715,1)" font-size="62.5" font-style="italic">F</text>
<text transform="translate(1926.39,545.61) scale(0.9313,0.7039)" font-size="81.5">=</text>
<text transform="translate(1971.07,545.00) scale(0.9648,0.9452)" font-size="81.5">30</text>
<text transform="translate(2078.58,545.00) scale(0.9482,1)" font-size="81.5">meV</text>
<text transform="translate(151.52,75.00) scale(0.972,1)" font-size="80">0.015</text>
<text transform="translate(194.76,328.00) scale(0.972,1)" font-size="80">0.01</text>
<text transform="translate(151.52,581.00) scale(0.972,1)" font-size="80">0.005</text>
<text transform="translate(302.87,834.00) scale(0.972,1)" font-size="80">0</text>
<text transform="translate(106.11,1087.00) scale(0.972,1)" font-size="80"><tspan dy="9.3">−</tspan><tspan dy="-9.3">0.005</tspan></text>
<text transform="translate(149.35,1340.00) scale(0.972,1)" font-size="80"><tspan dy="9.3">−</tspan><tspan dy="-9.3">0.01</tspan></text>
<text transform="translate(106.11,1593.00) scale(0.972,1)" font-size="80"><tspan dy="9.3">−</tspan><tspan dy="-9.3">0.015</tspan></text>
<text transform="translate(307.56,1652.50) scale(0.9900,1)" font-size="80">2.5</text>
<text transform="translate(725.82,1652.50) scale(0.9900,1)" font-size="80">3</text>
<text transform="translate(1077.26,1652.50) scale(0.9900,1)" font-size="80">3.5</text>
<text transform="translate(1495.02,1652.50) scale(0.9900,1)" font-size="80">4</text>
<text transform="translate(1847.05,1652.50) scale(0.9900,1)" font-size="80">4.5</text>
<text transform="translate(2264.02,1652.50) scale(0.9900,1)" font-size="80">5</text>
<text transform="translate(1056.53,1736.00) scale(0.9703,1)" font-size="80.8">Frequency, THz</text>
<text transform="translate(100,1010.53) rotate(-90) scale(0.9422,1)" font-size="87.2">Re(σ), mS; Im(σ), s</text>
</svg></body></html>
